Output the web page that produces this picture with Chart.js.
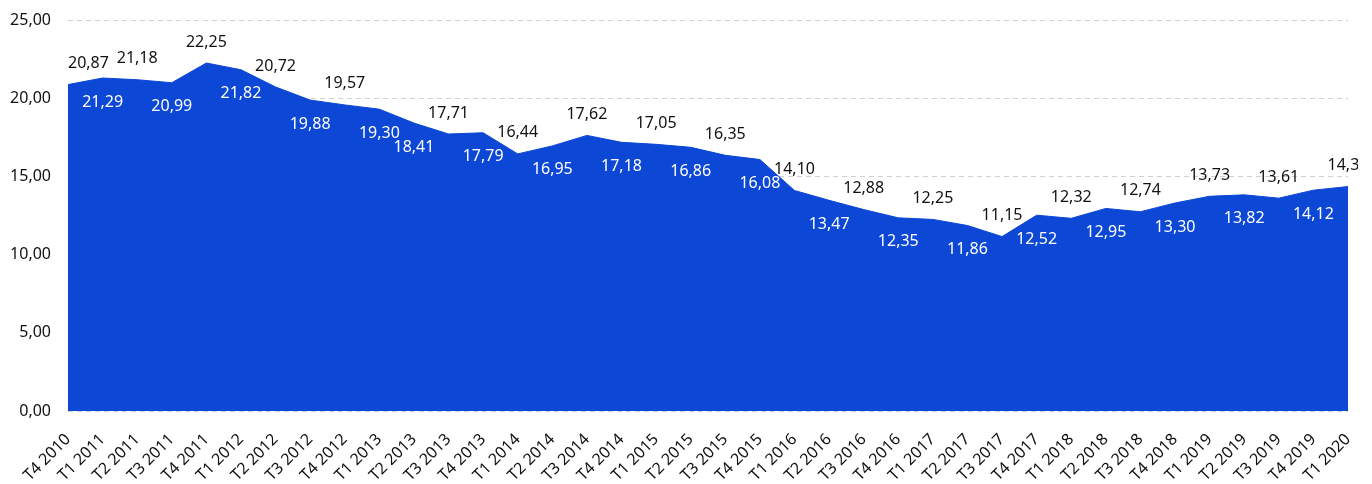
<!DOCTYPE html>
<html>
<head>
<meta charset="utf-8">
<script src="https://cdn.jsdelivr.net/npm/chart.js@4.4.1/dist/chart.umd.min.js"></script>
<style>
  html, body { margin: 0; padding: 0; background: #fff; }
  #contenedor { width: 1372px; height: 484px; }
</style>
</head>
<body>
<div id="contenedor"><canvas id="grafico"></canvas></div>
<script>
// Trimestres
const trimestres = [
    'T4 2010', 'T1 2011', 'T2 2011', 'T3 2011', 'T4 2011', 'T1 2012', 'T2 2012', 'T3 2012',
    'T4 2012', 'T1 2013', 'T2 2013', 'T3 2013', 'T4 2013', 'T1 2014', 'T2 2014', 'T3 2014',
    'T4 2014', 'T1 2015', 'T2 2015', 'T3 2015', 'T4 2015', 'T1 2016', 'T2 2016', 'T3 2016',
    'T4 2016', 'T1 2017', 'T2 2017', 'T3 2017', 'T4 2017', 'T1 2018', 'T2 2018', 'T3 2018',
    'T4 2018', 'T1 2019', 'T2 2019', 'T3 2019', 'T4 2019', 'T1 2020'
];

// Valores de la serie
const valores = [
    20.87, 21.29, 21.18, 20.99, 22.25, 21.82, 20.72, 19.88,
    19.57, 19.30, 18.41, 17.71, 17.79, 16.44, 16.95, 17.62,
    17.18, 17.05, 16.86, 16.35, 16.08, 14.10, 13.47, 12.88,
    12.35, 12.25, 11.86, 11.15, 12.52, 12.32, 12.95, 12.74,
    13.30, 13.73, 13.82, 13.61, 14.12, 14.35
];

// Eje Y
const ejeMin = 0;
const ejeMax = 25;
const ejePaso = 5;

const fuente = '"Noto Sans", "Open Sans", sans-serif';
const azul = '#0c47d6';

function formatear(v) {
    return v.toFixed(2).replace('.', ',');
}

// Etiquetas de datos: arriba en negro, abajo en blanco
// (hasta T1 2013 van arriba los pares, desde T2 2013 los impares)
const etiquetasDatos = {
    id: 'etiquetasDatos',
    afterDatasetsDraw(chart) {
        const ctx = chart.ctx;
        const area = chart.chartArea;
        const meta = chart.getDatasetMeta(0);
        ctx.save();
        ctx.beginPath();
        ctx.rect(0, 0, area.right + 10, chart.height);
        ctx.clip();
        ctx.font = '16px ' + fuente;
        ctx.textAlign = 'center';
        ctx.textBaseline = 'middle';
        meta.data.forEach((punto, i) => {
            const texto = formatear(valores[i]);
            const ancho = ctx.measureText(texto).width;
            const x = Math.max(punto.x, area.left + ancho / 2);
            const arriba = i < 10 ? i % 2 === 0 : i % 2 === 1;
            if (arriba) {
                ctx.fillStyle = '#111';
                ctx.fillText(texto, x, punto.y - 21);
            } else {
                ctx.fillStyle = '#fff';
                ctx.fillText(texto, x, punto.y + 24);
            }
        });
        ctx.restore();
    }
};

new Chart(document.getElementById('grafico'), {
    type: 'line',
    data: {
        labels: trimestres,
        datasets: [{
            data: valores,
            fill: 'origin',
            backgroundColor: azul,
            borderColor: azul,
            borderWidth: 1,
            pointRadius: 0,
            tension: 0
        }]
    },
    options: {
        responsive: true,
        maintainAspectRatio: false,
        animation: false,
        layout: {
            padding: { left: 7, right: 24, top: 20, bottom: 0 }
        },
        plugins: {
            legend: { display: false },
            tooltip: { enabled: false }
        },
        scales: {
            x: {
                offset: false,
                grid: { display: false },
                border: { display: false },
                ticks: {
                    autoSkip: false,
                    maxRotation: 45,
                    minRotation: 45,
                    padding: 11,
                    color: '#111',
                    font: { family: fuente, size: 16 }
                },
                afterFit: escala => {
                    escala.paddingLeft = 0;
                    escala.paddingRight = 0;
                    escala.height = 73;
                }
            },
            y: {
                min: ejeMin,
                max: ejeMax,
                border: { display: false, dash: [5, 4] },
                grid: {
                    color: '#d0d0d0',
                    drawTicks: false
                },
                ticks: {
                    stepSize: ejePaso,
                    padding: 17,
                    color: '#111',
                    font: { family: fuente, size: 16 },
                    callback: v => formatear(v)
                },
                afterFit: escala => {
                    escala.width = 61;
                    escala.paddingTop = 0;
                    escala.paddingBottom = 0;
                }
            }
        }
    },
    plugins: [etiquetasDatos]
});
</script>
</body>
</html>
